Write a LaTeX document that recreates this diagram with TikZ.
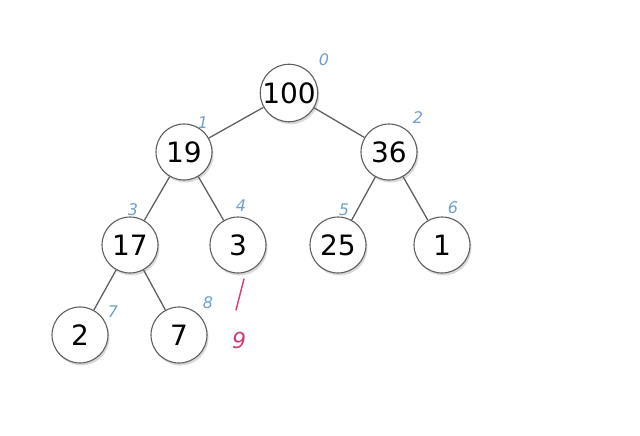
\documentclass[tikz,border=0pt]{standalone}
\usepackage{fontspec}
\setmainfont{DejaVu Sans}
\usetikzlibrary{shadows}
\definecolor{idxblue}{RGB}{110,160,205}
\definecolor{idxpink}{RGB}{205,60,120}
\definecolor{edgegray}{RGB}{95,95,95}
\begin{document}
\begin{tikzpicture}[x=1pt,y=-1pt,
  heapnode/.style={circle, draw=edgegray, line width=1.1pt, fill=white, minimum size=56pt, inner sep=0pt,
    font=\fontsize{28}{30}\selectfont,
    drop shadow={shadow xshift=1.5pt, shadow yshift=-2.5pt, opacity=0.3, fill=gray}},
  edge/.style={draw=edgegray, line width=1.3pt},
  idx/.style={text=idxblue, font=\fontsize{16}{18}\selectfont\itshape, inner sep=0pt},
  newidx/.style={text=idxpink, font=\fontsize{22}{24}\selectfont\itshape, inner sep=0pt}]
\useasboundingbox (0,0) rectangle (640,436);
\node[heapnode] (n0) at (289,93) {100};
\node[heapnode] (n1) at (184,152) {19};
\node[heapnode] (n2) at (389,152) {36};
\node[heapnode] (n3) at (130,245) {17};
\node[heapnode] (n4) at (238,245) {3};
\node[heapnode] (n5) at (338,245) {25};
\node[heapnode] (n6) at (442,245) {1};
\node[heapnode] (n7) at (80,335) {2};
\node[heapnode] (n8) at (179,335) {7};
\path[edge] (n0) -- (n1);
\path[edge] (n0) -- (n2);
\path[edge] (n1) -- (n3);
\path[edge] (n1) -- (n4);
\path[edge] (n2) -- (n5);
\path[edge] (n2) -- (n6);
\path[edge] (n3) -- (n7);
\path[edge] (n3) -- (n8);
\node[idx] (i0) at (324,60) {0};
\node[idx] (i1) at (203,123) {1};
\node[idx] (i2) at (418,118) {2};
\node[idx] (i3) at (133,210) {3};
\node[idx] (i4) at (241,206) {4};
\node[idx] (i5) at (344,210) {5};
\node[idx] (i6) at (453,208) {6};
\node[idx] (i7) at (113,312) {7};
\node[idx] (i8) at (208,303) {8};
\coordinate (s1) at (244,279);
\coordinate (s2) at (236,310);
\draw[idxpink, line width=1.4pt, line cap=round] (s1) -- (s2);
\node[newidx] (i9) at (239,340) {9};
\end{tikzpicture}
\end{document}
